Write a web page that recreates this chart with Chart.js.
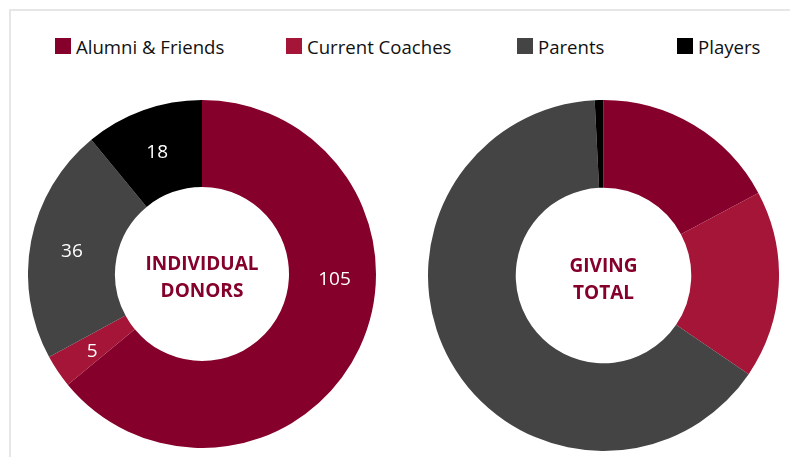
<!DOCTYPE html>
<html><head><meta charset="utf-8">
<script src="https://cdn.jsdelivr.net/npm/chart.js@4.4.1/dist/chart.umd.min.js"></script>
<style>
html,body{margin:0;padding:0;background:#fff;width:790px;height:457px;overflow:hidden;font-family:"Open Sans",sans-serif;}
#frame{position:absolute;left:9px;top:9px;width:900px;height:600px;border:2px solid #e6e6e6;box-sizing:border-box;}
#legend{position:absolute;top:36px;left:0;height:20px;}
.li{position:absolute;top:0;display:flex;align-items:center;font-size:18.6px;color:#111;white-space:nowrap;height:20px;}
.sw{width:16px;height:16px;margin-right:5px;flex:none;}
canvas{position:absolute;}
</style></head>
<body>
<div id="frame"></div>
<div id="legend"></div>
<canvas id="c1" width="348" height="348" style="left:28px;top:100px;width:348px;height:348px"></canvas>
<canvas id="c2" width="351" height="351" style="left:428px;top:100px;width:351px;height:351px"></canvas>
<script>
const categories = ["Alumni & Friends", "Current Coaches", "Parents", "Players"];
const donorCounts = [105, 5, 36, 18];
const givingShares = [17.2, 17.3, 64.7, 0.8];
const colors = ["#85002a", "#a51537", "#444444", "#000000"];
const centerTitles = [["INDIVIDUAL", "DONORS"], ["GIVING", "TOTAL"]];
const legendX = [55, 286, 517, 677];

const leg = document.getElementById('legend');
categories.forEach((c, i) => {
  const d = document.createElement('div');
  d.className = 'li';
  d.style.left = legendX[i] + 'px';
  d.innerHTML = '<span class="sw" style="background:' + colors[i] + '"></span><span>' + c + '</span>';
  leg.appendChild(d);
});

const centerText = {
  id: 'centerText',
  afterDraw(chart, args, opts) {
    const ctx = chart.ctx;
    const meta = chart.getDatasetMeta(0);
    const a = meta.data[0];
    ctx.save();
    ctx.fillStyle = '#85002a';
    ctx.font = 'bold 19px "Open Sans"';
    ctx.textAlign = 'center';
    ctx.textBaseline = 'middle';
    const lines = opts.lines || [];
    lines.forEach((l, i) => {
      ctx.fillText(l, a.x, a.y - 9 + i * 27);
    });
    if (opts.showValues) {
      ctx.fillStyle = '#ffffff';
      ctx.font = '19px "Open Sans"';
      const vals = chart.data.datasets[0].data;
      meta.data.forEach((arc, i) => {
        const frac = (opts.labelFrac && opts.labelFrac[i] != null) ? opts.labelFrac[i] : 0.5;
        const ang = arc.startAngle + (arc.endAngle - arc.startAngle) * frac;
        const r = (arc.innerRadius + arc.outerRadius) / 2 + 2;
        ctx.fillText(String(vals[i]), arc.x + r * Math.cos(ang), arc.y + r * Math.sin(ang) + 3);
      });
    }
    ctx.restore();
  }
};

function makeChart(id, data, lines, showValues) {
  return new Chart(document.getElementById(id), {
    type: 'doughnut',
    data: { labels: categories, datasets: [{ data: data, backgroundColor: colors, borderWidth: 0 }] },
    options: {
      responsive: false, animation: false, cutout: '50%',
      layout: { padding: 0 },
      plugins: {
        legend: { display: false }, tooltip: { enabled: false },
        centerText: { lines: lines, showValues: showValues, labelFrac: [0.395, 0.5, 0.5, 0.5] }
      }
    },
    plugins: [centerText]
  });
}
makeChart('c1', donorCounts, centerTitles[0], true);
makeChart('c2', givingShares, centerTitles[1], false);
</script>
</body></html>
